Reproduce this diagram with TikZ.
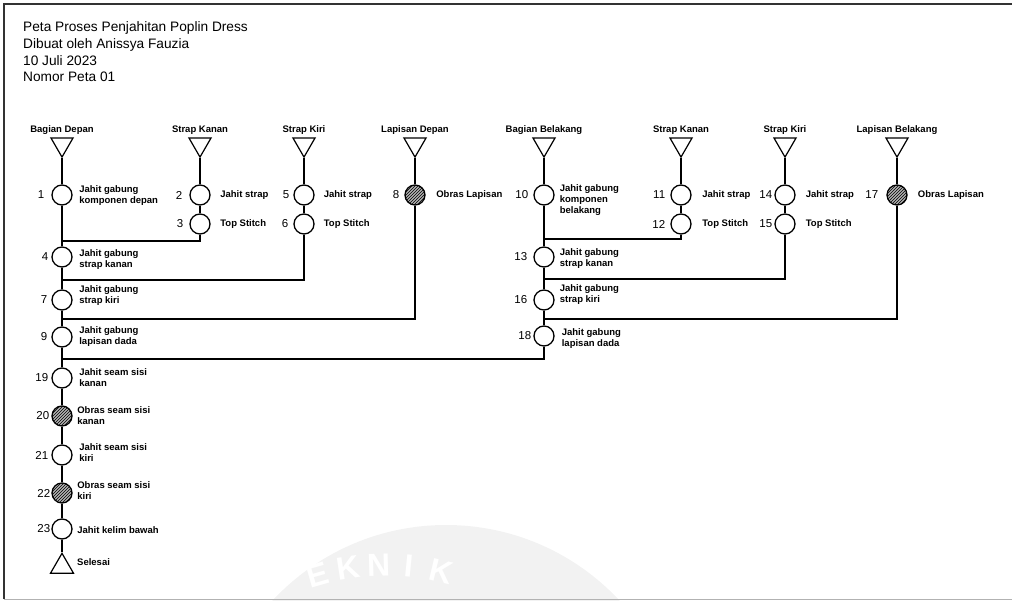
\documentclass[tikz,border=0pt]{standalone}
\usepackage{fontspec}
\setmainfont{Liberation Sans}
\usetikzlibrary{shapes.geometric,patterns}
\definecolor{wm}{HTML}{F2F2F2}
\definecolor{framec}{HTML}{333333}
\begin{document}
\begin{tikzpicture}[x=1pt,y=-1pt,
  op/.style={circle,draw,line width=1.3pt,minimum size=20pt,inner sep=0pt,fill=white},
  hop/.style={op,fill=gray!60,postaction={pattern=north east lines}},
  src/.style={regular polygon,regular polygon sides=3,shape border rotate=180,draw,line width=1.2pt,minimum size=25.4pt,inner sep=0pt},
  endt/.style={regular polygon,regular polygon sides=3,draw,line width=1.2pt,minimum size=26.6pt,inner sep=0pt},
  hdr/.style={font=\fontsize{9.5}{11}\selectfont\bfseries,inner sep=0pt,anchor=base},
  num/.style={font=\fontsize{11.5}{13}\selectfont,inner sep=0pt,anchor=east},
  lbl/.style={font=\fontsize{9.5}{11}\selectfont\bfseries,inner sep=0pt,anchor=west,align=left},
  ln/.style={line width=1.1pt},
  wml/.style={font=\fontsize{32}{32}\selectfont\bfseries,text=white,inner sep=0pt,anchor=base}
]
\useasboundingbox (0,0) rectangle (1012,601);
% watermark
\begin{scope}
\clip (0,0) rectangle (1012,601);
\fill[wm] (446,762) circle (237);
\foreach \t/\l in {-16/E,-8.6/K,-1.5/N,5.6/I,13.4/K}
  \node[wml,rotate=-\t] at ({385+234*sin(\t)},{810-234*cos(\t)}) {\l};
\end{scope}
% frame
\draw[framec,line width=1.3pt] (4,599) -- (4,4) -- (1012,4);
\draw[gray!60,line width=1pt] (4,599) -- (1012,599);
% title
\node[anchor=north west,align=left,inner sep=0pt,font=\fontsize{13.7}{16.7}\selectfont] (title) at (23,21.5)
  {Peta Proses Penjahitan Poplin Dress\\Dibuat oleh Anissya Fauzia\\10 Juli 2023\\Nomor Peta 01};
% headers and sources
\node[hdr] (hA) at (62,133) {Bagian Depan};
\node[hdr] (hB) at (200,133) {Strap Kanan};
\node[hdr] (hC) at (304,133) {Strap Kiri};
\node[hdr] (hD) at (415,133) {Lapisan Depan};
\node[hdr] (hE) at (544,133) {Bagian Belakang};
\node[hdr] (hF) at (681,133) {Strap Kanan};
\node[hdr] (hG) at (785,133) {Strap Kiri};
\node[hdr] (hH) at (897,133) {Lapisan Belakang};
\node[src] (tA) at (62,144.4) {};
\node[src] (tB) at (200,144.4) {};
\node[src] (tC) at (304,144.4) {};
\node[src] (tD) at (415,144.4) {};
\node[src] (tE) at (544,144.4) {};
\node[src] (tF) at (681,144.4) {};
\node[src] (tG) at (785,144.4) {};
\node[src] (tH) at (897,144.4) {};
% operations
\node[op] (c1) at (62,195) {};
\node[op] (c4) at (62,257) {};
\node[op] (c7) at (62,300) {};
\node[op] (c9) at (62,337) {};
\node[op] (c19) at (62,378) {};
\node[hop] (c20) at (62,416) {};
\node[op] (c21) at (62,455) {};
\node[hop] (c22) at (62,493) {};
\node[op] (c23) at (62,529) {};
\node[endt] (tEnd) at (62,566.6) {};
\node[op] (c2) at (200,195) {};
\node[op] (c3) at (200,224) {};
\node[op] (c5) at (304,195) {};
\node[op] (c6) at (304,224) {};
\node[hop] (c8) at (415,195) {};
\node[op] (c10) at (544,195) {};
\node[op] (c13) at (544,257) {};
\node[op] (c16) at (544,300) {};
\node[op] (c18) at (544,336) {};
\node[op] (c11) at (681,195) {};
\node[op] (c12) at (681,224) {};
\node[op] (c14) at (785,195) {};
\node[op] (c15) at (785,224) {};
\node[hop] (c17) at (897,195) {};
% junctions
\coordinate (j1) at (62,241);
\coordinate (j2) at (62,280);
\coordinate (j3) at (62,319);
\coordinate (j4) at (62,359);
\coordinate (j5) at (544,239);
\coordinate (j6) at (544,279);
\coordinate (j7) at (544,319);
% connectors
\draw[ln] (tA) -- (c1) -- (c4) -- (c7) -- (c9) -- (c19) -- (c20) -- (c21) -- (c22) -- (c23) -- (tEnd);
\draw[ln] (tB) -- (c2) -- (c3);
\draw[ln] (c3) |- (j1);
\draw[ln] (tC) -- (c5) -- (c6);
\draw[ln] (c6) |- (j2);
\draw[ln] (tD) -- (c8);
\draw[ln] (c8) |- (j3);
\draw[ln] (tE) -- (c10) -- (c13) -- (c16) -- (c18);
\draw[ln] (c18) |- (j4);
\draw[ln] (tF) -- (c11) -- (c12);
\draw[ln] (c12) |- (j5);
\draw[ln] (tG) -- (c14) -- (c15);
\draw[ln] (c15) |- (j6);
\draw[ln] (tH) -- (c17);
\draw[ln] (c17) |- (j7);
% numbers
\node[num] (n1) at ([xshift=-7pt]c1.west) {1};
\node[num] (n2) at ([xshift=-7pt]c2.west) {2};
\node[num] (n3) at ([xshift=-6pt]c3.west) {3};
\node[num] (n4) at ([xshift=-3pt]c4.west) {4};
\node[num] (n5) at ([xshift=-4pt]c5.west) {5};
\node[num] (n6) at ([xshift=-5pt]c6.west) {6};
\node[num] (n7) at ([xshift=-4pt]c7.west) {7};
\node[num] (n8) at ([xshift=-5pt]c8.west) {8};
\node[num] (n9) at ([xshift=-4pt]c9.west) {9};
\node[num] (n10) at ([xshift=-5pt]c10.west) {10};
\node[num] (n11) at ([xshift=-5pt]c11.west) {11};
\node[num] (n12) at ([xshift=-5pt]c12.west) {12};
\node[num] (n13) at ([xshift=-6pt]c13.west) {13};
\node[num] (n14) at ([xshift=-2pt]c14.west) {14};
\node[num] (n15) at ([xshift=-2pt]c15.west) {15};
\node[num] (n16) at ([xshift=-6pt]c16.west) {16};
\node[num] (n17) at ([xshift=-8pt]c17.west) {17};
\node[num] (n18) at ([xshift=-2pt]c18.west) {18};
\node[num] (n19) at ([xshift=-3pt]c19.west) {19};
\node[num] (n20) at ([xshift=-2pt]c20.west) {20};
\node[num] (n21) at ([xshift=-3pt]c21.west) {21};
\node[num] (n22) at ([xshift=-1pt]c22.west) {22};
\node[num] (n23) at ([xshift=-1pt]c23.west) {23};
% labels
\node[lbl] (l1) at ([xshift=6.5pt,yshift=-1pt]c1.east) {Jahit gabung\\komponen depan};
\node[lbl] (l2) at ([xshift=9.5pt]c2.east) {Jahit strap};
\node[lbl] (l3) at ([xshift=9.5pt]c3.east) {Top Stitch};
\node[lbl] (l4) at ([xshift=6.5pt,yshift=-3pt]c4.east) {Jahit gabung\\strap kanan};
\node[lbl] (l5) at ([xshift=9pt]c5.east) {Jahit strap};
\node[lbl] (l6) at ([xshift=9pt]c6.east) {Top Stitch};
\node[lbl] (l7) at ([xshift=6.5pt,yshift=4pt]c7.east) {Jahit gabung\\strap kiri};
\node[lbl] (l8) at ([xshift=10.5pt]c8.east) {Obras Lapisan};
\node[lbl] (l9) at ([xshift=6.5pt]c9.east) {Jahit gabung\\lapisan dada};
\node[lbl] (l10) at ([xshift=5pt,yshift=-5pt]c10.east) {Jahit gabung\\komponen\\belakang};
\node[lbl] (l11) at ([xshift=10.5pt]c11.east) {Jahit strap};
\node[lbl] (l12) at ([xshift=10.5pt]c12.east) {Top Stitch};
\node[lbl] (l13) at ([xshift=5pt,yshift=-2pt]c13.east) {Jahit gabung\\strap kanan};
\node[lbl] (l14) at ([xshift=10pt]c14.east) {Jahit strap};
\node[lbl] (l15) at ([xshift=10pt]c15.east) {Top Stitch};
\node[lbl] (l16) at ([xshift=5pt,yshift=5pt]c16.east) {Jahit gabung\\strap kiri};
\node[lbl] (l17) at ([xshift=10pt]c17.east) {Obras Lapisan};
\node[lbl] (l18) at ([xshift=7pt,yshift=-3pt]c18.east) {Jahit gabung\\lapisan dada};
\node[lbl] (l19) at ([xshift=6.5pt]c19.east) {Jahit seam sisi\\kanan};
\node[lbl] (l20) at ([xshift=4.5pt]c20.east) {Obras seam sisi\\kanan};
\node[lbl] (l21) at ([xshift=6.5pt,yshift=2pt]c21.east) {Jahit seam sisi\\kiri};
\node[lbl] (l22) at ([xshift=4.5pt,yshift=2pt]c22.east) {Obras seam sisi\\kiri};
\node[lbl] (l23) at ([xshift=4.5pt,yshift=-1pt]c23.east) {Jahit kelim bawah};
\node[lbl] (lEnd) at (77,562) {Selesai};
\end{tikzpicture}
\end{document}
